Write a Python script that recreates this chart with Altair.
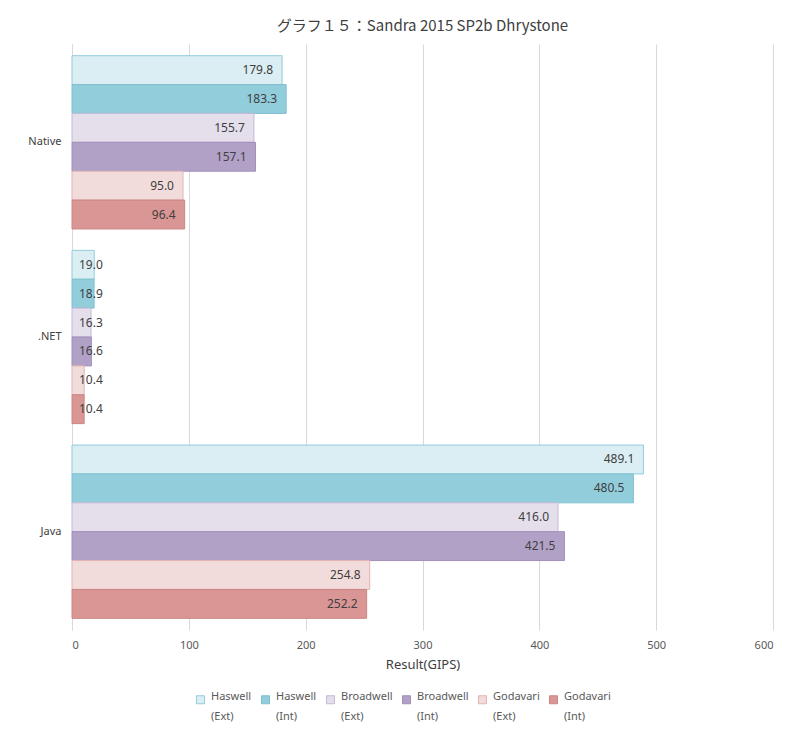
import altair as alt
import pandas as pd

categories = ["Native", ".NET", "Java"]
series = ["Haswell|(Ext)", "Haswell|(Int)", "Broadwell|(Ext)", "Broadwell|(Int)", "Godavari|(Ext)", "Godavari|(Int)"]
native_vals = [179.8, 183.3, 155.7, 157.1, 95.0, 96.4]
dotnet_vals = [19.0, 18.9, 16.3, 16.6, 10.4, 10.4]
java_vals = [489.1, 480.5, 416.0, 421.5, 254.8, 252.2]

fills = ["#DAEEF3", "#92CDDC", "#E5DFEC", "#B2A1C7", "#F2DCDB", "#D99694"]
strokes = ["#92CDDC", "#7FBFCF", "#C5B9D7", "#A08EB8", "#E0B4B2", "#C98683"]

rows = []
for cat, vals in zip(categories, [native_vals, dotnet_vals, java_vals]):
    for s, v in zip(series, vals):
        rows.append({"category": cat, "series": s, "value": v})
df = pd.DataFrame(rows)

FONT = "Noto Sans"

legend = alt.Legend(title=None, orient="none", legendX=123, legendY=650, columns=6,
                    direction="horizontal", padding=0,
                    symbolType="square", symbolSize=64, symbolStrokeWidth=1,
                    labelExpr="split(datum.label, '|')",
                    labelFontSize=11, labelColor="#595959", labelFont=FONT,
                    columnPadding=7, labelOffset=5, labelBaseline="alphabetic")

y_enc = alt.Y("category:N", sort=categories, title=None,
              scale=alt.Scale(paddingInner=0.11, paddingOuter=0.06),
              axis=alt.Axis(labelFontSize=11, labelColor="#404040", labelFont=FONT,
                            ticks=False, domainColor="#D9D9D9", labelPadding=11))
yoff = alt.YOffset("series:N", sort=series, scale=alt.Scale(paddingInner=0, paddingOuter=0))

base = alt.Chart(df)

bars = base.mark_bar(strokeWidth=1).encode(
    x=alt.X("value:Q", title="Result(GIPS)",
            scale=alt.Scale(domain=[0, 600], nice=False),
            axis=alt.Axis(values=[0, 100, 200, 300, 400, 500, 600], grid=True,
                          gridColor="#D9D9D9", domain=False, ticks=False,
                          labelFontSize=11, labelColor="#595959", labelFont=FONT,
                          titleFontSize=13, titleColor="#404040", titleFont=FONT,
                          titleFontWeight="normal", labelPadding=9, titlePadding=8)),
    y=y_enc,
    yOffset=yoff,
    fill=alt.Fill("series:N", sort=series, scale=alt.Scale(domain=series, range=fills),
                  legend=legend),
    stroke=alt.Stroke("series:N", sort=series, scale=alt.Scale(domain=series, range=strokes),
                      legend=legend),
)

texts_end = base.transform_filter("datum.value >= 50").mark_text(
    align="right", dx=-9, fontSize=12, color="#404040", font=FONT).encode(
    x="value:Q",
    y=alt.Y("category:N", sort=categories),
    yOffset=yoff,
    text=alt.Text("value:Q", format=".1f"),
)

texts_base = base.transform_filter("datum.value < 50").mark_text(
    align="left", dx=7, fontSize=12, color="#404040", font=FONT).encode(
    x=alt.datum(0),
    y=alt.Y("category:N", sort=categories),
    yOffset=yoff,
    text=alt.Text("value:Q", format=".1f"),
)

chart = alt.layer(bars, texts_end, texts_base).properties(
    width=701, height=586,
    title=alt.Title("グラフ１５：Sandra 2015 SP2b Dhrystone", fontSize=15, font="Noto Sans CJK JP",
                    color="#404040", fontWeight="normal", anchor="middle", offset=10),
    autosize=alt.AutoSizeParams(type="none"),
    padding={"left": 64, "top": 36, "right": 19, "bottom": 96},
).configure(style={"guide-label": {"lineHeight": 20}}).configure_view(stroke=None)

chart.save("out.html", embed_options={"renderer": "svg", "actions": False})
